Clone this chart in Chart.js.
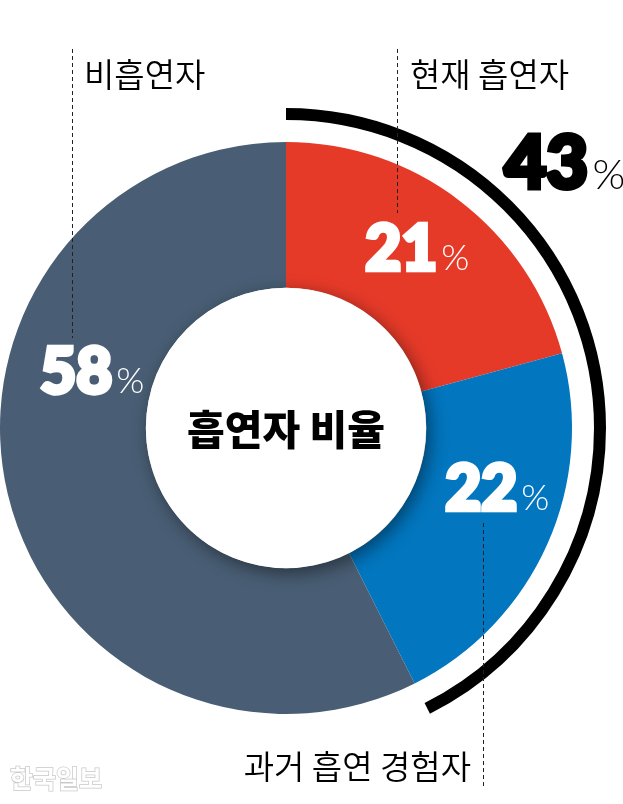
<!DOCTYPE html>
<html>
<head>
<meta charset="utf-8">
<script src="https://cdn.jsdelivr.net/npm/chart.js@4"></script>
<style>
  html, body { margin: 0; padding: 0; background: #fff; }
  #smokeChart { display: block; }
</style>
</head>
<body>
<canvas id="smokeChart" width="623" height="804"></canvas>
<script>
// data
const categories = ['현재 흡연자', '과거 흡연 경험자', '비흡연자'];
const shares = [21, 22, 58];
const smokerShare = 43; // 현재 + 과거
const sliceColors = ['#e63a29', '#0276bf', '#495e74'];
const centerTitle = '흡연자 비율';

const smokeChart = document.getElementById('smokeChart');

// where the labels sit, relative to the doughnut centre
const pctSpots = [
  { dx: 77, dy: -156 },   // 21
  { dx: 157, dy: 84 },    // 22
  { dx: -248, dy: -33 },  // 58
];

const ringExtras = {
  id: 'ringExtras',
  afterDatasetsDraw(chart) {
    const ctx = chart.ctx;
    const arcs = chart.getDatasetMeta(0).data;
    const cx = arcs[0].x, cy = arcs[0].y;
    const inner = arcs[0].innerRadius, outer = arcs[0].outerRadius;

    // white hole with a soft shadow on the ring
    ctx.save();
    ctx.shadowColor = 'rgba(0,0,0,0.45)';
    ctx.shadowBlur = 18;
    ctx.shadowOffsetX = 4;
    ctx.shadowOffsetY = 5;
    ctx.fillStyle = '#fff';
    ctx.beginPath();
    ctx.arc(cx, cy, inner, 0, Math.PI * 2);
    ctx.fill();
    ctx.restore();

    // black bracket arc around the two smoker slices
    ctx.save();
    ctx.strokeStyle = '#000';
    ctx.lineWidth = 12;
    ctx.lineCap = 'butt';
    ctx.beginPath();
    ctx.arc(cx, cy, outer + 28, arcs[0].startAngle, arcs[1].endAngle);
    ctx.stroke();
    ctx.restore();
  },
  afterDraw(chart) {
    const ctx = chart.ctx;
    const arcs = chart.getDatasetMeta(0).data;
    const cx = arcs[0].x, cy = arcs[0].y;

    // dashed leader lines
    ctx.save();
    ctx.strokeStyle = '#222';
    ctx.lineWidth = 1;
    ctx.setLineDash([4, 3]);
    [[72, 49, 338], [397, 49, 213], [483, 523, 787]].forEach((l) => {
      ctx.beginPath();
      ctx.moveTo(l[0] + 0.5, l[1]);
      ctx.lineTo(l[0] + 0.5, l[2]);
      ctx.stroke();
    });
    ctx.restore();

    // category labels
    ctx.save();
    ctx.fillStyle = '#000';
    ctx.font = '350 33px "Noto Sans CJK KR"';
    ctx.textBaseline = 'alphabetic';
    ctx.textAlign = 'left';
    ctx.fillText(categories[2], 84, 87);
    ctx.fillText(categories[0], 410, 87);
    ctx.textAlign = 'right';
    ctx.fillText(categories[1], 471, 779);
    ctx.restore();

    // percentages: extra-heavy digits (stroked to thicken) and a thin %
    function pct(value, x, y, color, bigSize, smallSize) {
      ctx.save();
      ctx.fillStyle = color;
      ctx.strokeStyle = color;
      ctx.textAlign = 'left';
      ctx.textBaseline = 'alphabetic';
      ctx.font = '900 ' + bigSize + 'px Lato';
      const txt = String(value);
      const thick = bigSize * 0.07;
      ctx.lineWidth = thick;
      ctx.lineJoin = 'miter';
      ctx.fillText(txt, x + thick / 2, y - thick / 2);
      ctx.strokeText(txt, x + thick / 2, y - thick / 2);
      const w = ctx.measureText(txt).width + thick;
      ctx.font = '300 ' + smallSize + 'px Lato';
      ctx.fillText('%', x + w + 2, y - 2);
      ctx.restore();
    }
    shares.forEach((v, i) => {
      pct(v, cx + pctSpots[i].dx, cy + pctSpots[i].dy, '#fff', 62, 36);
    });
    pct(smokerShare, cx + 216, cy - 237, '#000', 72, 42);

    // centre title
    ctx.save();
    ctx.fillStyle = '#000';
    ctx.font = '900 41px "Noto Sans CJK KR"';
    ctx.textAlign = 'center';
    ctx.textBaseline = 'middle';
    ctx.fillText(centerTitle, cx, cy + 1);
    ctx.restore();

    // watermark
    ctx.save();
    ctx.font = 'bold 25px "Noto Sans CJK KR"';
    ctx.textAlign = 'left';
    ctx.textBaseline = 'alphabetic';
    ctx.lineWidth = 1.5;
    ctx.strokeStyle = '#c8c8c8';
    ctx.fillStyle = '#fff';
    ctx.strokeText('한국일보', 10, 788);
    ctx.fillText('한국일보', 10, 788);
    ctx.restore();
  },
};

new Chart(smokeChart, {
  type: 'doughnut',
  data: {
    labels: categories,
    datasets: [
      {
        data: shares,
        backgroundColor: sliceColors,
        borderWidth: 0,
      },
    ],
  },
  options: {
    responsive: false,
    animation: false,
    cutout: '49%',
    rotation: 0,
    layout: {
      padding: { left: 0, right: 51, top: 142, bottom: 90 },
    },
    plugins: {
      legend: { display: false },
      tooltip: { enabled: false },
    },
  },
  plugins: [ringExtras],
});
</script>
</body>
</html>
